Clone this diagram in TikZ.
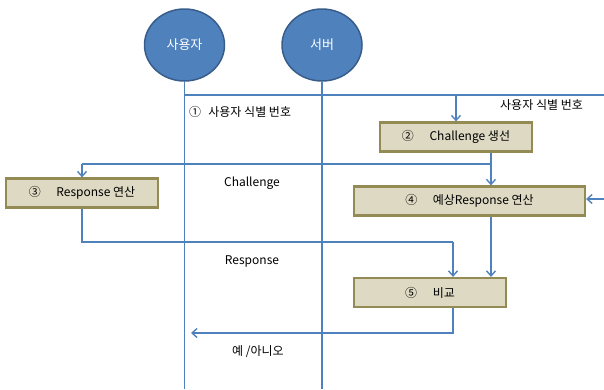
\documentclass[tikz,border=0pt]{standalone}
\usepackage{fontspec}
\setmainfont{Noto Sans CJK KR}
\usetikzlibrary{arrows.meta,positioning,shapes.geometric}
\definecolor{LBlue}{HTML}{4F81BD}
\definecolor{LBlueDark}{HTML}{385D8A}
\definecolor{BTan}{HTML}{DDD9C3}
\definecolor{BOlive}{HTML}{948A54}

\begin{document}
\begin{tikzpicture}[x=1pt,y=-1pt,
  actor/.style={ellipse,draw=LBlueDark,line width=1.5pt,fill=LBlue,
    minimum width=80pt,minimum height=72pt,text=white,font=\fontsize{13}{15}\selectfont},
  stepbox/.style={draw=BOlive,line width=2.2pt,fill=BTan,minimum height=29pt,
    inner sep=0pt,font=\fontsize{12}{14}\selectfont},
  ln/.style={LBlue,line width=1.4pt},
  a/.style={ln,-{Straight Barb[length=5pt,width=9pt]}},
  lbl/.style={font=\fontsize{12}{14}\selectfont,inner sep=0pt}
]
  \useasboundingbox (0,0) rectangle (604,389);
  % actors and lifelines
  \node[actor] (user) at (184.5,45) {사용자};
  \node[actor] (server) at (322,45) {서버};
  \draw[ln,line width=1.8pt] (user.south) -- (user.south |- 0,389);
  \draw[ln,line width=1.8pt] (server.south) -- (server.south |- 0,389);
  % steps
  \node[stepbox,minimum width=152pt] (gen) at (456,137) {②\hspace{1.3em}Challenge 생선};
  \node[stepbox,minimum width=152pt] (resp) at (82,193) {③\hspace{1.3em}Response 연산};
  \node[stepbox,minimum width=231pt] (expect) at (469.5,201) {④\hspace{1.3em}예상Response 연산};
  \node[stepbox,minimum width=152pt] (cmp) at (430,292.5) {⑤\hspace{1.3em}비교};
  % corner points
  \coordinate (id) at (604,95);
  \coordinate (ch) at (491,164);
  \coordinate (rs) at (453,242);
  \coordinate (ans) at (191,333);
  \coordinate (ext) at (604,199);
  % connectors
  \draw[ln] (user.south |- id) -- (id);
  \draw[a] (gen.north |- id) -- (gen.north);
  \draw[ln] (gen.south -| ch) -- (ch) -- (ch -| resp.north);
  \draw[a] (ch -| resp.north) -- (resp.north);
  \draw[a] (ch) -- (ch |- expect.north);
  \draw[a] (ext) -- (ext -| expect.east);
  \draw[ln] (resp.south) |- (rs);
  \draw[a] (rs) -- (rs |- cmp.north);
  \draw[a] (expect.south -| ch) -- (ch |- cmp.north);
  \draw[a] (cmp.south -| rs) |- (ans);
  % labels
  \node[lbl,anchor=west] (idl) at (189,112) {①\hspace{0.6em}사용자 식별 번호};
  \node[lbl,anchor=west] (idr) at (500,105) {사용자 식별 번호};
  \node[lbl] (chl) at (252,183) {Challenge};
  \node[lbl] (rsl) at (252,261) {Response};
  \node[lbl] (ansl) at (258,352) {예 /아니오};
\end{tikzpicture}
\end{document}
